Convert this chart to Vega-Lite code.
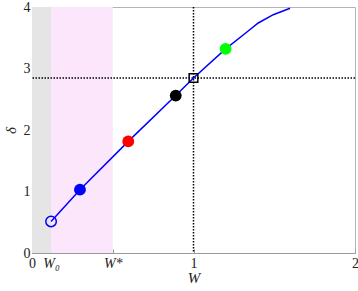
{
  "$schema": "https://vega.github.io/schema/vega-lite/v6.json",
  "width": 323,
  "height": 246,
  "autosize": "none",
  "padding": {"left": 32, "top": 7, "right": 3, "bottom": 38},
  "background": "white",
  "config": {
    "view": {"stroke": "#b4b4b4", "strokeWidth": 1},
    "font": "Liberation Serif",
    "axis": {
      "grid": false,
      "domainColor": "#999999",
      "tickColor": "#999999",
      "tickSize": -4,
      "labelFont": "Liberation Serif",
      "labelFontSize": 14,
      "labelColor": "#222222",
      "labelOverlap": false,
      "labelFlush": false,
      "titleFont": "Liberation Serif",
      "titleFontSize": 15,
      "titleFontStyle": "italic",
      "titleFontWeight": "normal",
      "titleColor": "#222222"
    }
  },
  "datasets": {
    "bands": [
      {"x0": 0, "x1": 0.118, "zone": "gray"},
      {"x0": 0.118, "x1": 0.5, "zone": "pink"}
    ],
    "curve": [
      {"W": 0.118, "delta": 0.514},
      {"W": 0.297, "delta": 1.03},
      {"W": 0.596, "delta": 1.815},
      {"W": 0.89, "delta": 2.56},
      {"W": 1.0, "delta": 2.846},
      {"W": 1.199, "delta": 3.32},
      {"W": 1.329, "delta": 3.59},
      {"W": 1.401, "delta": 3.74},
      {"W": 1.494, "delta": 3.875},
      {"W": 1.598, "delta": 3.98}
    ],
    "dots": [
      {"W": 0.297, "delta": 1.03, "c": "blue"},
      {"W": 0.596, "delta": 1.815, "c": "red"},
      {"W": 0.89, "delta": 2.56, "c": "black"},
      {"W": 1.199, "delta": 3.32, "c": "green"}
    ],
    "start": [{"W": 0.118, "delta": 0.514}],
    "star": [{"W": 1.0, "delta": 2.846}]
  },
  "layer": [
    {
      "data": {"name": "bands"},
      "mark": {"type": "rect", "opacity": 1},
      "encoding": {
        "x": {"field": "x0", "type": "quantitative", "scale": {"domain": [0, 2], "nice": false},
          "axis": {
            "values": [0, 0.118, 0.5, 1, 2],
            "labelExpr": "datum.value == 0 ? '0' : (datum.value < 0.2 ? 'W₀' : (datum.value < 0.7 ? 'W*' : (datum.value < 1.5 ? '1' : '2')))",
            "labelFontStyle": {"condition": {"test": "datum.value > 0.05 && datum.value < 0.7", "value": "italic"}, "value": "normal"},
            "title": "W",
            "labelPadding": 7,
            "titlePadding": 0
          }},
        "x2": {"field": "x1"},
        "y": {"datum": 0, "type": "quantitative", "scale": {"domain": [0, 4], "nice": false},
          "axis": {"values": [0, 1, 2, 3, 4], "format": "d", "title": "δ", "labelPadding": 6, "titlePadding": 5}},
        "y2": {"datum": 4},
        "color": {"field": "zone", "type": "nominal", "scale": {"domain": ["gray", "pink"], "range": ["#e5e5e5", "#fbe6fb"]}, "legend": null}
      }
    },
    {
      "data": {"values": [{"v": 1}]},
      "mark": {"type": "rule", "color": "black", "strokeWidth": 1.5, "strokeDash": [1.5, 1.5]},
      "encoding": {"x": {"field": "v", "type": "quantitative"}}
    },
    {
      "data": {"values": [{"v": 2.846}]},
      "mark": {"type": "rule", "color": "black", "strokeWidth": 1.5, "strokeDash": [1.5, 1.5]},
      "encoding": {"y": {"field": "v", "type": "quantitative"}}
    },
    {
      "data": {"name": "curve"},
      "mark": {"type": "line", "color": "#0000ff", "strokeWidth": 1.5},
      "encoding": {
        "x": {"field": "W", "type": "quantitative"},
        "y": {"field": "delta", "type": "quantitative"}
      }
    },
    {
      "data": {"name": "start"},
      "mark": {"type": "point", "shape": "circle", "filled": false, "stroke": "#0000ff", "strokeWidth": 1.5, "size": 110, "opacity": 1},
      "encoding": {
        "x": {"field": "W", "type": "quantitative"},
        "y": {"field": "delta", "type": "quantitative"}
      }
    },
    {
      "data": {"name": "star"},
      "mark": {"type": "point", "shape": "square", "filled": false, "stroke": "black", "strokeWidth": 1.5, "size": 75, "opacity": 1},
      "encoding": {
        "x": {"field": "W", "type": "quantitative"},
        "y": {"field": "delta", "type": "quantitative"}
      }
    },
    {
      "data": {"name": "dots"},
      "mark": {"type": "circle", "size": 140, "opacity": 1},
      "encoding": {
        "x": {"field": "W", "type": "quantitative"},
        "y": {"field": "delta", "type": "quantitative"},
        "color": {"field": "c", "type": "nominal", "scale": {"domain": ["blue", "red", "black", "green"], "range": ["#0000ff", "#ff0000", "#000000", "#00ff00"]}, "legend": null}
      }
    }
  ],
  "resolve": {"scale": {"color": "independent"}}
}
